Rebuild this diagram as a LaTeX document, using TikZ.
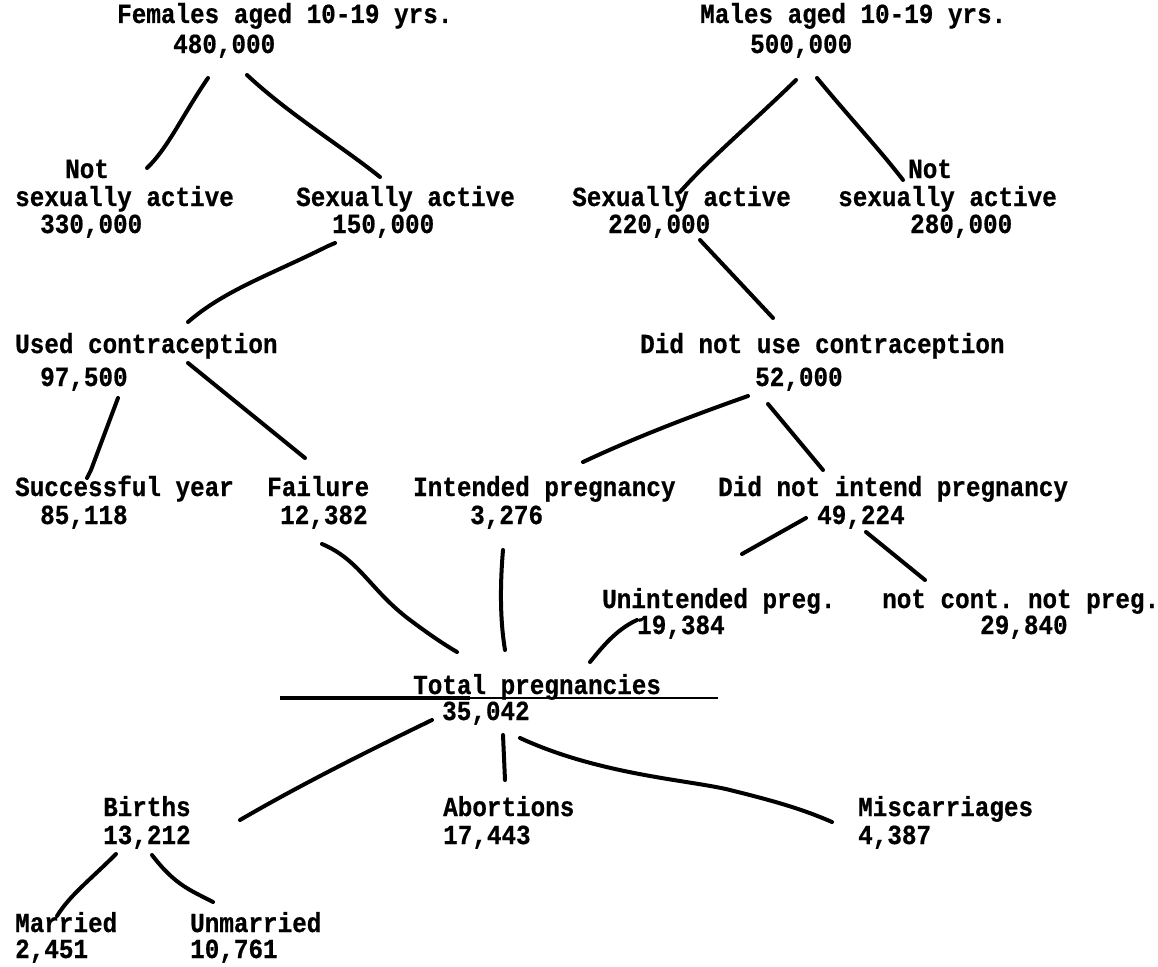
\documentclass[tikz,border=0pt]{standalone}
\usepackage{fontspec}
\setmonofont[FakeStretch=0.88, BoldFeatures={FakeBold=0.6}]{Liberation Mono}
\begin{document}
\begin{tikzpicture}[x=1pt,y=-1pt]
\tikzset{
  lbl/.style={anchor=base west, inner sep=0pt, font=\ttfamily\bfseries\fontsize{27.6}{30}\selectfont},
  con/.style={line width=4pt, line cap=round, line join=round}
}
\useasboundingbox[fill=white] (0,0) rectangle (1158,966);
% labels
\node[lbl] (fem) at (117,23) {Females aged 10-19 yrs.};
\node[lbl] (femn) at (173,53) {480,000};
\node[lbl] (mal) at (700,23) {Males aged 10-19 yrs.};
\node[lbl] (maln) at (750,53) {500,000};
\node[lbl] (fnot1) at (65,178) {Not};
\node[lbl] (fnot2) at (15,206) {sexually active};
\node[lbl] (fnotn) at (40,233) {330,000};
\node[lbl] (fsa) at (296,206) {Sexually active};
\node[lbl] (fsan) at (332,233) {150,000};
\node[lbl] (msa) at (572,206) {Sexually active};
\node[lbl] (msan) at (608,233) {220,000};
\node[lbl] (mnot1) at (908,178) {Not};
\node[lbl] (mnot2) at (838,206) {sexually active};
\node[lbl] (mnotn) at (910,233) {280,000};
\node[lbl] (uc) at (15,353) {Used contraception};
\node[lbl] (ucn) at (40,386) {97,500};
\node[lbl] (dnu) at (640,353) {Did not use contraception};
\node[lbl] (dnun) at (755,386) {52,000};
\node[lbl] (sy) at (15,496) {Successful year};
\node[lbl] (syn) at (40,524) {85,118};
\node[lbl] (fail) at (267,496) {Failure};
\node[lbl] (failn) at (280,524) {12,382};
\node[lbl] (ip) at (413,496) {Intended pregnancy};
\node[lbl] (ipn) at (470,524) {3,276};
\node[lbl] (dni) at (718,496) {Did not intend pregnancy};
\node[lbl] (dnin) at (817,524) {49,224};
\node[lbl] (up) at (602,608) {Unintended preg.};
\node[lbl] (upn) at (637,634) {19,384};
\node[lbl] (nc) at (882,608) {not cont. not preg.};
\node[lbl] (ncn) at (980,634) {29,840};
\node[lbl] (tp) at (413,694) {Total pregnancies};
\node[lbl] (tpn) at (442,720) {35,042};
\node[lbl] (bi) at (103,816) {Births};
\node[lbl] (bin) at (103,844) {13,212};
\node[lbl] (ab) at (443,816) {Abortions};
\node[lbl] (abn) at (443,844) {17,443};
\node[lbl] (mi) at (858,816) {Miscarriages};
\node[lbl] (min) at (858,844) {4,387};
\node[lbl] (ma) at (15,932) {Married};
\node[lbl] (man) at (15,958) {2,451};
\node[lbl] (um) at (190,932) {Unmarried};
\node[lbl] (umn) at (190,958) {10,761};
% connector end points
\coordinate (a1) at (208,78);  \coordinate (a2) at (147,168);
\coordinate (b1) at (247,75);  \coordinate (b2) at (380,177);
\coordinate (c1) at (796,80);  \coordinate (c2) at (680,192);
\coordinate (d1) at (817,78);  \coordinate (d2) at (903,180);
\coordinate (e1) at (335,243); \coordinate (e2) at (188,322);
\coordinate (f1) at (700,240); \coordinate (f2) at (773,318);
\coordinate (g1) at (118,398); \coordinate (g2) at (87,478);
\coordinate (h1) at (188,363); \coordinate (h2) at (305,458);
\coordinate (i1) at (748,396); \coordinate (i2) at (583,462);
\coordinate (j1) at (768,404); \coordinate (j2) at (823,470);
\coordinate (k1) at (322,544); \coordinate (k2) at (457,652);
\coordinate (l1) at (503,550); \coordinate (l2) at (505,650);
\coordinate (m1) at (806,518); \coordinate (m2) at (742,554);
\coordinate (n1) at (866,532); \coordinate (n2) at (925,580);
\coordinate (o1) at (637,620); \coordinate (o2) at (590,662);
\coordinate (u1) at (280,698); \coordinate (um1) at (470,698); \coordinate (u2) at (718,698);
\coordinate (p1) at (432,720); \coordinate (p2) at (240,820);
\coordinate (q1) at (503,735); \coordinate (q2) at (505,780);
\coordinate (r1) at (520,738); \coordinate (r2) at (832,822);
\coordinate (s1) at (116,854); \coordinate (s2) at (57,916);
\coordinate (t1) at (152,855); \coordinate (t2) at (213,902);
% connectors
\draw[con] (a1) .. controls (182,116) and (168,148) .. (a2);
\draw[con] (b1) .. controls (290,115) and (340,145) .. (b2);
\draw[con] (c1) .. controls (750,125) and (710,158) .. (c2);
\draw[con] (d1) .. controls (850,118) and (880,150) .. (d2);
\draw[con] (e1) -- (328,246) .. controls (270,275) and (225,290) .. (e2);
\draw[con] (f1) -- (f2);
\draw[con] (g1) -- (91,470) -- (g2);
\draw[con] (h1) -- (h2);
\draw[con] (i1) .. controls (680,420) and (630,440) .. (i2);
\draw[con] (j1) -- (j2);
\draw[con] (k1) .. controls (360,560) and (370,590) .. (410,620) .. controls (430,635) and (445,645) .. (k2);
\draw[con] (l1) .. controls (500,585) and (500,620) .. (l2);
\draw[con] (m1) -- (m2);
\draw[con] (n1) -- (n2);
\draw[con] (o1) .. controls (615,630) and (600,650) .. (o2);
\draw[line width=4pt] (u1) -- (um1);
\draw[line width=2.6pt] (um1) -- (u2);
\draw[con] (p1) .. controls (370,750) and (300,785) .. (p2);
\draw[con] (q1) -- (q2);
\draw[con] (r1) .. controls (600,775) and (690,780) .. (730,790) .. controls (770,800) and (800,808) .. (r2);
\draw[con] (s1) .. controls (90,880) and (70,895) .. (s2);
\draw[con] (t1) .. controls (175,885) and (190,890) .. (t2);
\end{tikzpicture}
\end{document}
